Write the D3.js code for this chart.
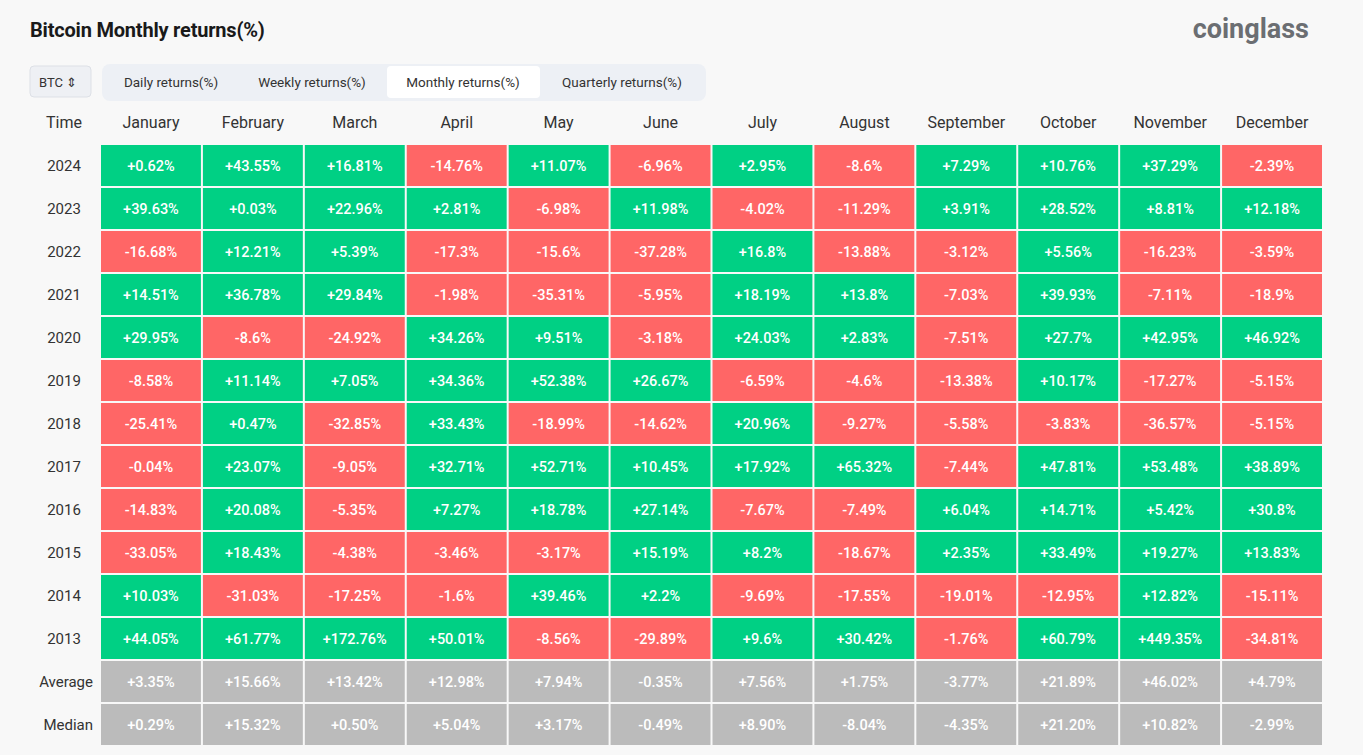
<!DOCTYPE html>
<html><head><meta charset="utf-8">
<script src="https://cdn.jsdelivr.net/npm/d3@7"></script>
<style>
body{margin:0;background:#f8f8f8;font-family:Roboto,"Noto Sans",sans-serif;}
</style></head>
<body>
<svg id="chart" width="1363" height="755"></svg>
<script>
var months = ["January","February","March","April","May","June","July","August","September","October","November","December"];
var years = ["2024","2023","2022","2021","2020","2019","2018","2017","2016","2015","2014","2013"];
var summaryRows = ["Average","Median"];
var r2024 = ["+0.62%","+43.55%","+16.81%","-14.76%","+11.07%","-6.96%","+2.95%","-8.6%","+7.29%","+10.76%","+37.29%","-2.39%"];
var r2023 = ["+39.63%","+0.03%","+22.96%","+2.81%","-6.98%","+11.98%","-4.02%","-11.29%","+3.91%","+28.52%","+8.81%","+12.18%"];
var r2022 = ["-16.68%","+12.21%","+5.39%","-17.3%","-15.6%","-37.28%","+16.8%","-13.88%","-3.12%","+5.56%","-16.23%","-3.59%"];
var r2021 = ["+14.51%","+36.78%","+29.84%","-1.98%","-35.31%","-5.95%","+18.19%","+13.8%","-7.03%","+39.93%","-7.11%","-18.9%"];
var r2020 = ["+29.95%","-8.6%","-24.92%","+34.26%","+9.51%","-3.18%","+24.03%","+2.83%","-7.51%","+27.7%","+42.95%","+46.92%"];
var r2019 = ["-8.58%","+11.14%","+7.05%","+34.36%","+52.38%","+26.67%","-6.59%","-4.6%","-13.38%","+10.17%","-17.27%","-5.15%"];
var r2018 = ["-25.41%","+0.47%","-32.85%","+33.43%","-18.99%","-14.62%","+20.96%","-9.27%","-5.58%","-3.83%","-36.57%","-5.15%"];
var r2017 = ["-0.04%","+23.07%","-9.05%","+32.71%","+52.71%","+10.45%","+17.92%","+65.32%","-7.44%","+47.81%","+53.48%","+38.89%"];
var r2016 = ["-14.83%","+20.08%","-5.35%","+7.27%","+18.78%","+27.14%","-7.67%","-7.49%","+6.04%","+14.71%","+5.42%","+30.8%"];
var r2015 = ["-33.05%","+18.43%","-4.38%","-3.46%","-3.17%","+15.19%","+8.2%","-18.67%","+2.35%","+33.49%","+19.27%","+13.83%"];
var r2014 = ["+10.03%","-31.03%","-17.25%","-1.6%","+39.46%","+2.2%","-9.69%","-17.55%","-19.01%","-12.95%","+12.82%","-15.11%"];
var r2013 = ["+44.05%","+61.77%","+172.76%","+50.01%","-8.56%","-29.89%","+9.6%","+30.42%","-1.76%","+60.79%","+449.35%","-34.81%"];
var average = ["+3.35%","+15.66%","+13.42%","+12.98%","+7.94%","-0.35%","+7.56%","+1.75%","-3.77%","+21.89%","+46.02%","+4.79%"];
var median = ["+0.29%","+15.32%","+0.50%","+5.04%","+3.17%","-0.49%","+8.90%","-8.04%","-4.35%","+21.20%","+10.82%","-2.99%"];

var tabs = ["Daily returns(%)","Weekly returns(%)","Monthly returns(%)","Quarterly returns(%)"];

var rows = [r2024,r2023,r2022,r2021,r2020,r2019,r2018,r2017,r2016,r2015,r2014,r2013,average,median];
var rowLabels = years.concat(summaryRows);

var svg = d3.select("#chart");

svg.append("text").attr("x",30).attr("y",37).text("Bitcoin Monthly returns(%)")
  .attr("font-size",20).attr("font-weight",700).attr("fill","#1a1a1a").attr("letter-spacing",-0.2);
svg.append("text").attr("x",1309).attr("y",38).attr("text-anchor","end").text("coinglass")
  .attr("font-size",27).attr("font-weight",700).attr("fill","#6b6e72");

// controls
svg.append("rect").attr("x",30).attr("y",66).attr("width",61).attr("height",31).attr("rx",4)
  .attr("fill","#eef0f4").attr("stroke","#dde0e6");
svg.append("text").attr("x",39).attr("y",87).text("BTC \u21D5").attr("font-size",13).attr("fill","#333");
svg.append("rect").attr("x",102).attr("y",64).attr("width",604).attr("height",37).attr("rx",8).attr("fill","#edf0f5");
svg.append("rect").attr("x",387).attr("y",66).attr("width",153).attr("height",32).attr("rx",4).attr("fill","#fff");
var tabX = [171,312,463,622];
svg.selectAll(".tab").data(tabs).enter().append("text")
  .attr("x",function(d,i){return tabX[i];}).attr("y",87).attr("text-anchor","middle")
  .attr("font-size",13.5).attr("fill","#333").text(function(d){return d;});

var x = d3.scaleBand().domain(months).range([100,1323]).paddingInner(0);
var y = d3.scaleBand().domain(rowLabels).range([144,746]);

svg.append("text").attr("x",64).attr("y",128).attr("text-anchor","middle").attr("font-size",16).attr("fill","#333").text("Time");
svg.selectAll(".mh").data(months).enter().append("text")
  .attr("x",function(d){return x(d)+x.bandwidth()/2;}).attr("y",128).attr("text-anchor","middle")
  .attr("font-size",16).attr("fill","#333").text(function(d){return d;});

svg.selectAll(".rl").data(rowLabels).enter().append("text")
  .attr("x",function(d){return d.length>4?93:64;}).attr("y",function(d){return y(d)+y.bandwidth()/2+5;})
  .attr("text-anchor",function(d){return d.length>4?"end":"middle";})
  .attr("font-size",15).attr("fill","#333").text(function(d){return d;});

var cells = [];
rows.forEach(function(r,ri){ r.forEach(function(v,ci){ cells.push({row:rowLabels[ri],month:months[ci],v:v,summary:ri>=12}); }); });

var g = svg.selectAll(".cell").data(cells).enter().append("g");
g.append("rect")
  .attr("x",function(d){return x(d.month)+1;}).attr("y",function(d){return y(d.row)+1;})
  .attr("width",x.bandwidth()-2).attr("height",y.bandwidth()-2)
  .attr("fill",function(d){return d.summary?"#bbbbbb":(d.v[0]=="-"?"#ff6666":"#00d084");});
g.append("text")
  .attr("x",function(d){return x(d.month)+x.bandwidth()/2;}).attr("y",function(d){return y(d.row)+y.bandwidth()/2+5;})
  .attr("text-anchor","middle").attr("font-size",14.5).attr("fill","#fff").attr("font-weight",500)
  .text(function(d){return d.v;});
</script>
</body></html>
